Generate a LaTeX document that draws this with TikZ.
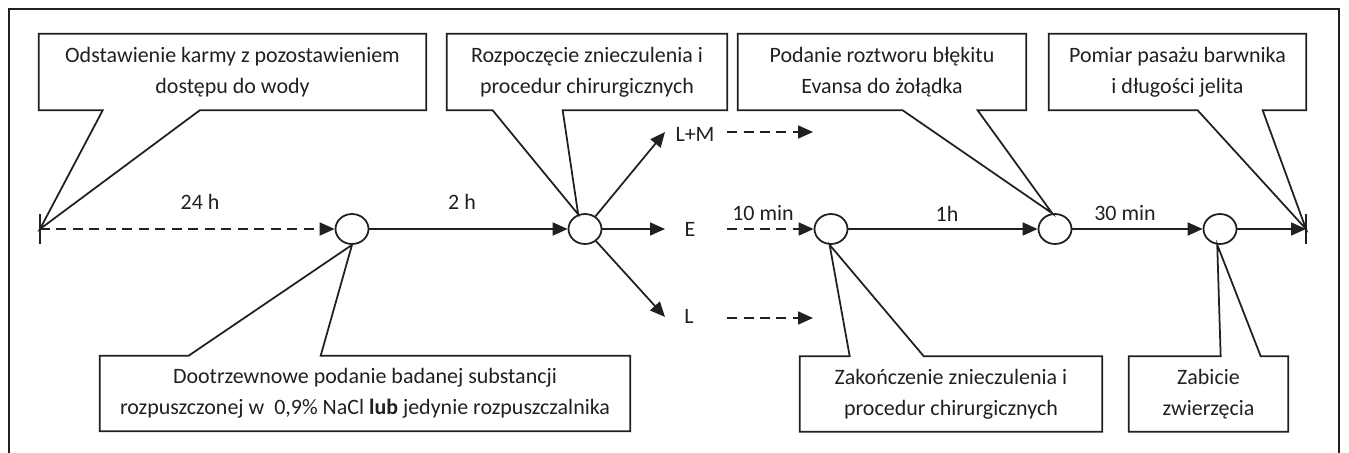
\documentclass[tikz,border=0pt]{standalone}
\usepackage{fontspec}
\setmainfont{Carlito}
\usepackage{tikz}
\usetikzlibrary{arrows.meta,shapes.geometric,positioning,calc}
\definecolor{ink}{RGB}{35,31,32}
\tikzstyle{callbox} = [rectangle, minimum height=1.52cm, align=center, inner sep=0pt, text=ink, font=\fontsize{12.5}{17.6}\selectfont]
\tikzstyle{outline} = [line width=1pt, draw=ink, line join=miter]
\tikzstyle{event} = [ellipse, draw=ink, line width=1pt, minimum width=0.66cm, minimum height=0.6cm, inner sep=0pt, fill=white]
\tikzstyle{arrow} = [line width=1pt, draw=ink, -{Triangle[length=0.3cm,width=0.26cm]}]
\tikzstyle{dasharrow} = [arrow, dash pattern=on 0.2cm off 0.13cm]
\tikzstyle{lbl} = [text=ink, inner sep=1pt, font=\fontsize{12.5}{15}\selectfont]

\begin{document}
\begin{tikzpicture}[x=0.02cm, y=-0.02cm]
\useasboundingbox (0,0) rectangle (1349,453);
% frame
\draw[ink, line width=1.3pt] (9,453) -- (9,9) -- (1339,9) -- (1339,453);

% time line
\coordinate (t0) at (40,229);
\coordinate (t1) at (1306,229);
\draw[outline] ($(t0)+(0,-15)$) -- ($(t0)+(0,15)$);
\draw[outline] ($(t1)+(0,-15)$) -- ($(t1)+(0,15)$);
\node[event] (c1) at (352,229) {};
\node[event] (c2) at (585,229) {};
\node[event] (c3) at (831,229) {};
\node[event] (c4) at (1055,229) {};
\node[event] (c5) at (1220,229) {};

% groups
\node[lbl] (lm) at (695,134) {L+M};
\node[lbl] (e) at (690,229) {E};
\node[lbl] (l) at (689,316) {L};
\coordinate (lmtip) at (665,132);
\coordinate (etip) at (665,229);
\coordinate (ltip) at (665,317);
\coordinate (lmfrom) at (727,132);
\coordinate (efrom) at (727,229);
\coordinate (lfrom) at (727,318);
\coordinate (lmto) at (813,132);
\coordinate (lto) at (813,318);

% intervals
\node[lbl] (h24) at (200,202) {24 h};
\node[lbl] (h2) at (462,202) {2 h};
\node[lbl] (m10) at (763,213) {10 min};
\node[lbl] (h1) at (947,214) {1h};
\node[lbl] (m30) at (1125,213) {30 min};

\draw[dasharrow] (t0) -- (c1);
\draw[arrow] (c1) -- (c2);
\draw[arrow] (c2) -- (lmtip);
\draw[arrow] (c2) -- (etip);
\draw[arrow] (c2) -- (ltip);
\draw[dasharrow] (lmfrom) -- (lmto);
\draw[dasharrow] (efrom) -- (c3);
\draw[dasharrow] (lfrom) -- (lto);
\draw[arrow] (c3) -- (c4);
\draw[arrow] (c4) -- (c5);
\draw[arrow] (c5) -- (t1);

% callouts above
\node[callbox, minimum width=7.74cm] (odst) at (232.5,72) {Odstawienie karmy z pozostawieniem\\dostępu do wody};
\node[callbox, minimum width=5.6cm] (rozp) at (587,72) {Rozpoczęcie znieczulenia i\\procedur chirurgicznych};
\node[callbox, minimum width=5.76cm] (poda) at (882,72) {Podanie roztworu błękitu\\Evansa do żołądka};
\node[callbox, minimum width=5.14cm] (pomiar) at (1177.5,72) {Pomiar pasażu barwnika\\i długości jelita};

\draw[outline] (odst.north west) -- (odst.north east) -- (odst.south east) -- ($(odst.south west)+(161,0)$) -- (t0) -- ($(odst.south west)+(64,0)$) -- (odst.south west) -- cycle;
\draw[outline] (rozp.north west) -- (rozp.north east) -- (rozp.south east) -- ($(rozp.south west)+(116,0)$) -- (c2.115) -- ($(rozp.south west)+(46,0)$) -- (rozp.south west) -- cycle;
\draw[outline] (poda.north west) -- (poda.north east) -- (poda.south east) -- ($(poda.south west)+(240,0)$) -- (c4.100) -- ($(poda.south west)+(165,0)$) -- (poda.south west) -- cycle;
\draw[outline] (pomiar.north west) -- (pomiar.north east) -- (pomiar.south east) -- ($(pomiar.south west)+(214,0)$) -- (t1) -- ($(pomiar.south west)+(149,0)$) -- (pomiar.south west) -- cycle;

% callouts below
\node[callbox, minimum width=10.6cm, minimum height=1.5cm] (dootrz) at (365,393.5) {Dootrzewnowe podanie badanej substancji\\rozpuszczonej w\ \ 0,9\% NaCl \textbf{lub} jedynie rozpuszczalnika};
\node[callbox, minimum width=6.04cm, minimum height=1.5cm] (zakon) at (951,394) {Zakończenie znieczulenia i\\procedur chirurgicznych};
\node[callbox, minimum width=3.18cm, minimum height=1.5cm] (zabic) at (1208.5,394) {Zabicie\\zwierzęcia};

\draw[outline] (dootrz.south west) -- (dootrz.south east) -- (dootrz.north east) -- ($(dootrz.north west)+(221,0)$) -- (c1.south) -- ($(dootrz.north west)+(89,0)$) -- (dootrz.north west) -- cycle;
\draw[outline] (zakon.south west) -- (zakon.south east) -- (zakon.north east) -- ($(zakon.north west)+(124,0)$) -- (c3.265) -- ($(zakon.north west)+(50,0)$) -- (zakon.north west) -- cycle;
\draw[outline] (zabic.south west) -- (zabic.south east) -- (zabic.north east) -- ($(zabic.north west)+(132,0)$) -- (c5.260) -- ($(zabic.north west)+(92,0)$) -- (zabic.north west) -- cycle;
\end{tikzpicture}
\end{document}
